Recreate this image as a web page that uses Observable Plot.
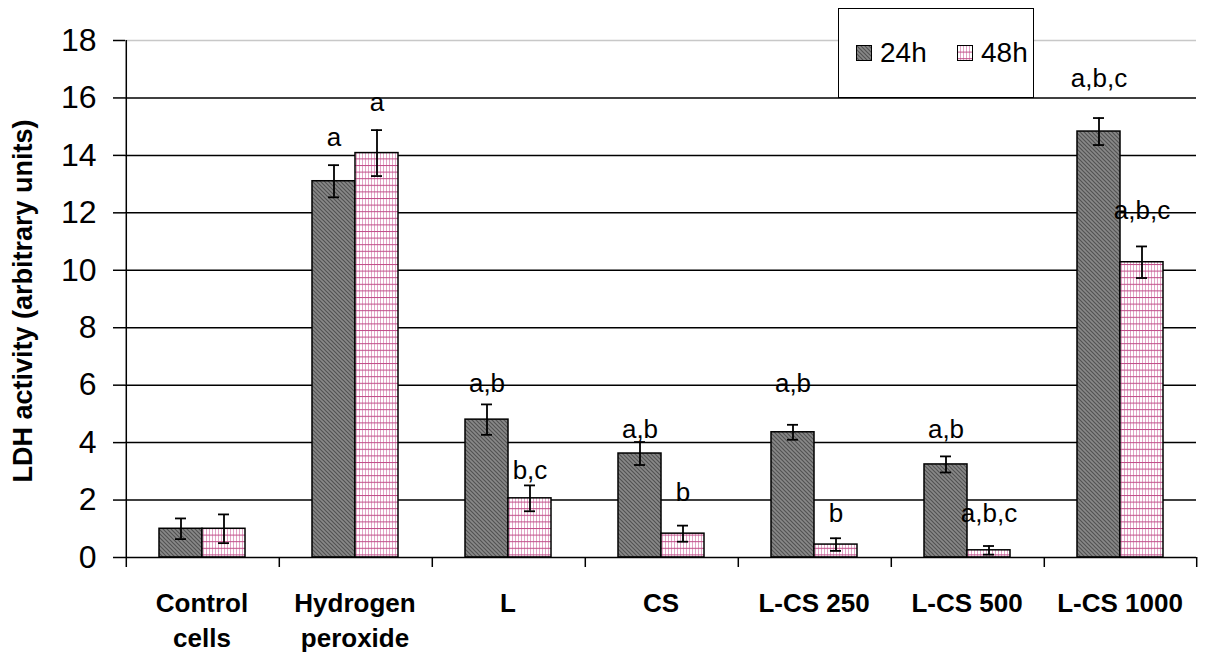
<!DOCTYPE html>
<html>
<head>
<meta charset="utf-8">
<script src="https://cdn.jsdelivr.net/npm/d3@7"></script>
<script src="https://cdn.jsdelivr.net/npm/@observablehq/plot@0.6"></script>
<style>
  body { margin: 0; background: #fff; font-family: "Liberation Sans", Arial, sans-serif; }
  #wrap { position: relative; width: 1208px; height: 654px; overflow: hidden; }
  #ytitle { position: absolute; left: 23px; top: 301px; transform: translate(-50%, -50%) rotate(-90deg);
            font-weight: bold; font-size: 27px; white-space: nowrap; color: #000; }
  #legend { position: absolute; left: 838px; top: 8px; width: 196px; height: 90px; box-sizing: border-box;
            border: 1.5px solid #000; background: #fff; }
  .sw { position: absolute; top: 36px; width: 16px; height: 16px; }
  .lt { position: absolute; top: 27px; font-size: 28px; line-height: 34px; color: #000; }
  #defs { position: absolute; width: 0; height: 0; }
</style>
</head>
<body>
<svg id="defs" width="0" height="0">
  <defs>
    <pattern id="p24" patternUnits="userSpaceOnUse" width="4" height="4">
      <rect width="4" height="4" fill="#888888"></rect>
      <path d="M0,0 L4,4 M-1,3 L1,5 M3,-1 L5,1" stroke="#525252" stroke-width="1.2"></path>
    </pattern>
    <pattern id="p48" patternUnits="userSpaceOnUse" width="3" height="6.6">
      <rect width="3" height="6.6" fill="#ffffff"></rect>
      <line x1="0.5" y1="0" x2="0.5" y2="6.6" stroke="#e2a4c6" stroke-width="1"></line>
      <line x1="0" y1="0.5" x2="3" y2="0.5" stroke="#c04d88" stroke-width="1"></line>
    </pattern>
  </defs>
</svg>
<div id="wrap">
  <div id="chart"></div>
  <div id="ytitle">LDH activity (arbitrary units)</div>
  <div id="legend">
    <svg class="sw" style="left:17px" viewBox="0 0 16 16"><rect x="0.5" y="0.5" width="15" height="15" fill="url(#p24)" stroke="#000" stroke-width="1"></rect></svg>
    <span class="lt" style="left:41px">24h</span>
    <svg class="sw" style="left:118px" viewBox="0 0 16 16"><rect x="0.5" y="0.5" width="15" height="15" fill="url(#p48)" stroke="#000" stroke-width="1"></rect></svg>
    <span class="lt" style="left:142px">48h</span>
  </div>
</div>
<script>
// ---- data ----
const categories = ["Control cells", "Hydrogen peroxide", "L", "CS", "L-CS 250", "L-CS 500", "L-CS 1000"];
const categoryLabels = ["Control\ncells", "Hydrogen\nperoxide", "L", "CS", "L-CS 250", "L-CS 500", "L-CS 1000"];
const series = ["24h", "48h"];
const values24 = [1.0, 13.1, 4.8, 3.62, 4.36, 3.24, 14.83];
const err24    = [0.36, 0.56, 0.53, 0.40, 0.26, 0.28, 0.47];
const values48 = [1.0, 14.08, 2.06, 0.83, 0.45, 0.25, 10.28];
const err48    = [0.50, 0.80, 0.45, 0.28, 0.22, 0.15, 0.55];
const sig24  = ["", "a", "a,b", "a,b", "a,b", "a,b", "a,b,c"];
const sig48  = ["", "a", "b,c", "b", "b", "a,b,c", "a,b,c"];
const sigY24 = [null, 14.63, 6.06, 4.46, 6.06, 4.46, 16.68];
const sigY48 = [null, 15.85, 3.03, 2.27, 1.53, 1.53, 12.08];
const yTicks = [0, 2, 4, 6, 8, 10, 12, 14, 16, 18];
const gridValues = [2, 4, 6, 8, 10, 12, 14, 16];
const topGrid = [18];

// ---- table ----
const rows = [];
categories.forEach((c, i) => {
  rows.push({cat: c, series: "24h", value: values24[i], err: err24[i], sig: sig24[i], sigY: sigY24[i]});
  rows.push({cat: c, series: "48h", value: values48[i], err: err48[i], sig: sig48[i], sigY: sigY48[i]});
});

// ---- layout ----
const W = 1208, H = 654, mL = 123, mR = 11, mT = 40, mB = 97;
const pOuter = 0.743;
const step = (W - mL - mR) / categories.length;
const bw = step / (2 + 2 * pOuter);
const edge = step / 2 - bw / 2;
const capInset = (bw - 12) / 2;
const hasAxisMark = typeof Plot.axisY === "function";

const axisMarks = hasAxisMark ? [
  Plot.axisY({ticks: yTicks, tickSize: 12, tickPadding: 17, fontSize: 32, label: null, strokeWidth: 1.5}),
  Plot.ruleX(categories.slice(0, 1), {fx: d => d, x: () => "24h", y1: () => 0, y2: () => 18, dx: -edge, stroke: "#000", strokeWidth: 1.5})
] : [];

const chart = Plot.plot({
  width: W, height: H,
  marginLeft: mL, marginRight: mR, marginTop: mT, marginBottom: mB,
  style: {fontFamily: "Liberation Sans, Arial, sans-serif", fontSize: "32px", color: "#000", background: "transparent", overflow: "visible"},
  fx: {domain: categories, padding: 0, axis: null},
  x: {domain: series, paddingInner: 0, paddingOuter: pOuter, axis: null},
  y: hasAxisMark
    ? {domain: [0, 18], axis: null}
    : {domain: [0, 18], ticks: yTicks, tickSize: 12, tickPadding: 17, label: null, line: true},
  color: {type: "ordinal", domain: series, range: ["url(#p24)", "url(#p48)"]},
  marks: [
    Plot.ruleY(topGrid, {stroke: "#c8c8c8", strokeWidth: 1.5}),
    Plot.ruleY(gridValues, {stroke: "#000", strokeWidth: 1.5}),
    Plot.barY(rows, {fx: "cat", x: "series", y: "value", fill: "series", stroke: "#000", strokeWidth: 1.5}),
    Plot.ruleX(rows, {fx: "cat", x: "series", y1: d => d.value - d.err, y2: d => d.value + d.err, stroke: "#000", strokeWidth: 1.8}),
    Plot.tickY(rows, {fx: "cat", x: "series", y: d => d.value + d.err, insetLeft: capInset, insetRight: capInset, stroke: "#000", strokeWidth: 1.8}),
    Plot.tickY(rows, {fx: "cat", x: "series", y: d => d.value - d.err, insetLeft: capInset, insetRight: capInset, stroke: "#000", strokeWidth: 1.8}),
    Plot.text(rows.filter(d => d.sig), {fx: "cat", x: "series", y: "sigY", text: "sig", fontSize: 26, fill: "#000"}),
    Plot.ruleY([0], {stroke: "#000", strokeWidth: 1.5}),
    Plot.ruleX(categories, {fx: d => d, x: () => "24h", y1: () => 0, y2: () => 0, insetBottom: -10, dx: -edge, stroke: "#000", strokeWidth: 1.5}),
    Plot.ruleX(categories.slice(-1), {fx: d => d, x: () => "48h", y1: () => 0, y2: () => 0, insetBottom: -10, dx: edge, stroke: "#000", strokeWidth: 1.5}),
    Plot.text(categories, {fx: d => d, text: (d, i) => categoryLabels[i], frameAnchor: "bottom", lineAnchor: "top", dy: 30, fontSize: 26, fontWeight: "bold", lineHeight: 1.33, fill: "#000"}),
    ...axisMarks
  ]
});
document.getElementById("chart").appendChild(chart);
</script>
</body>
</html>
